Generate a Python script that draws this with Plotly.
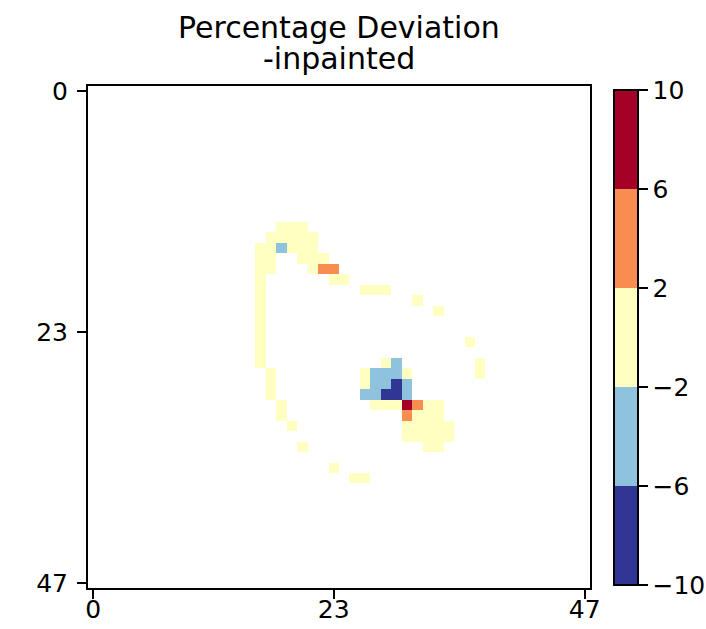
import numpy as np
import plotly.graph_objects as go

# Grid size and tick labels
n_cells = 48
tick_vals = [0, 23, 47]
cbar_ticks = [-10, -6, -2, 2, 6, 10]
cbar_labels = ["\u221210", "\u22126", "\u22122", "2", "6", "10"]
title_lines = ["Percentage Deviation", "-inpainted"]

# Non-empty cells of the deviation map: row index, column index, percentage deviation
cell_row = [
    13, 13, 13,
    14, 14, 14, 14, 14,
    15, 15, 15, 15, 15, 15,
    16, 16, 16, 16, 16,
    17, 17, 17, 17, 17,
    18, 18, 18,
    19, 19, 19, 19,
    20, 20,
    21, 21,
    22,
    23,
    24, 24,
    25,
    26, 26, 26, 26,
    27, 27, 27, 27, 27, 27, 27,
    28, 28, 28, 28, 28, 28,
    29, 29, 29, 29, 29, 29,
    30, 30, 30, 30, 30, 30, 30, 30,
    31, 31, 31, 31, 31,
    32, 32, 32, 32, 32, 32,
    33, 33, 33, 33, 33,
    34, 34, 34,
    36,
    37, 37,
]
cell_col = [
    18, 19, 20,
    17, 18, 19, 20, 21,
    16, 17, 18, 19, 20, 21,
    16, 17, 20, 21, 22,
    16, 17, 21, 22, 23,
    16, 23, 24,
    16, 26, 27, 28,
    16, 31,
    16, 33,
    16,
    16,
    16, 36,
    16,
    16, 28, 29, 37,
    17, 26, 27, 28, 29, 30, 37,
    17, 26, 27, 28, 29, 30,
    17, 26, 27, 28, 29, 30,
    18, 27, 28, 29, 30, 31, 32, 33,
    18, 30, 31, 32, 33,
    19, 30, 31, 32, 33, 34,
    30, 31, 32, 33, 34,
    20, 32, 33,
    23,
    25, 26,
]
cell_pct = [
    0.6, 0.9, 0.4,
    0.3, 1.1, -0.5, 0.7, 1.2,
    -0.4, 0.8, -3.1, 0.5, -0.2, 1.0,
    -0.7, 0.2, 0.9, 1.3, 1.5,
    -0.9, 0.1, 1.4, 3.8, 4.1,
    -1.1, 1.6, 1.2,
    -1.2, 0.8, 1.1, 0.6,
    -1.3, 0.7,
    -1.0, 0.9,
    -1.4,
    -1.2,
    -0.9, 1.0,
    -0.8,
    -0.6, -1.5, -3.6, 1.3,
    -0.5, -1.4, -4.2, -4.8, -3.9, 1.7, 1.1,
    -0.3, -1.8, -3.3, -5.1, -7.4, -2.6,
    0.2, -2.7, -4.5, -6.8, -8.2, -2.9,
    0.4, -1.6, -1.2, -1.7, 8.3, 4.6, 1.9, 1.2,
    0.6, 3.2, 1.8, 1.5, 0.9,
    0.8, 1.6, 1.4, 1.1, 0.7, 0.5,
    1.2, 1.0, 0.8, 0.6, 0.4,
    1.0, 0.5, 0.3,
    1.1,
    1.2, 0.9,
]

z = np.full((n_cells, n_cells), np.nan)
for r, c, v in zip(cell_row, cell_col, cell_pct):
    z[r, c] = v

# Five discrete bands from the reversed RdYlBu palette
band_colors = ["#313695", "#8fc3dd", "#feffc0", "#f88d52", "#a50026"]
colorscale = []
for i, col in enumerate(band_colors):
    colorscale.append([i / 5, col])
    colorscale.append([(i + 1) / 5, col])

W, H = 706, 629
left, right, top, bottom = 87.5, 590, 86, 588
plot_h = bottom - top
plot_w = right - left
cb_left, cb_top, cb_bottom = 614, 90, 585

font = dict(family="DejaVu Sans", color="black")
tick_size = 25
title_size = 30

fig = go.Figure(
    go.Heatmap(
        z=z,
        x=np.arange(n_cells),
        y=np.arange(n_cells),
        colorscale=colorscale,
        zmin=-10,
        zmax=10,
        hoverongaps=False,
        colorbar=dict(
            tickvals=cbar_ticks,
            ticktext=cbar_labels,
            ticks="outside",
            ticklen=9,
            tickwidth=2,
            tickcolor="black",
            tickfont=dict(size=tick_size, **font),
            thickness=24,
            thicknessmode="pixels",
            len=cb_bottom - cb_top,
            lenmode="pixels",
            x=(cb_left - left) / plot_w,
            xanchor="left",
            xref="paper",
            y=(bottom - (cb_top + cb_bottom) / 2) / plot_h,
            yanchor="middle",
            outlinewidth=2,
            outlinecolor="black",
            xpad=0,
            ypad=0,
        ),
    )
)

axis_common = dict(
    tickvals=tick_vals,
    ticks="outside",
    ticklen=9,
    tickwidth=2,
    tickcolor="black",
    tickfont=dict(size=tick_size, **font),
    showline=True,
    mirror=True,
    linecolor="black",
    linewidth=2,
    showgrid=False,
    zeroline=False,
)

# Two-line title, each line placed on its own baseline
title_centers_px = [27.6, 58.2]
annotations = [
    dict(
        text=line,
        x=0.5,
        xref="paper",
        xanchor="center",
        y=(bottom - yc) / plot_h,
        yref="paper",
        yanchor="middle",
        showarrow=False,
        font=dict(size=title_size, **font),
    )
    for line, yc in zip(title_lines, title_centers_px)
]

fig.update_layout(
    width=W,
    height=H,
    margin=dict(l=left, r=W - right, t=top, b=H - bottom, pad=0, autoexpand=False),
    paper_bgcolor="white",
    plot_bgcolor="white",
    annotations=annotations,
    xaxis=dict(range=[-0.5, n_cells - 0.5], ticklabelstandoff=-11, **axis_common),
    yaxis=dict(range=[n_cells - 0.5, -0.5], ticklabelstandoff=4, **axis_common),
)

fig.write_html("out.html")
